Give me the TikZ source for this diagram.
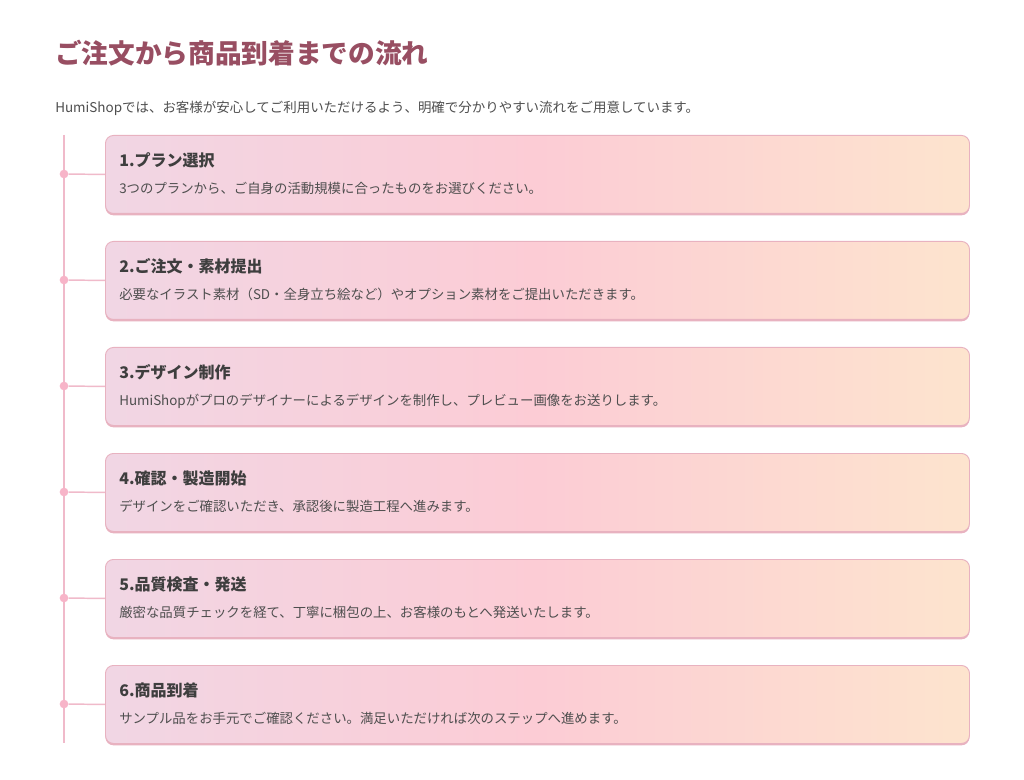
\documentclass[tikz,border=0pt]{standalone}
\usepackage{fontspec}
\setmainfont{Noto Sans CJK JP}
\usepackage{tikz}
\usetikzlibrary{positioning}

\definecolor{titlerose}{RGB}{152,78,98}
\definecolor{bodygray}{RGB}{78,78,78}
\definecolor{headgray}{RGB}{62,62,62}
\definecolor{linepink}{RGB}{240,186,202}
\definecolor{dotpink}{RGB}{247,180,200}
\definecolor{cardleft}{RGB}{241,214,228}
\definecolor{cardmid}{RGB}{252,204,213}
\definecolor{cardright}{RGB}{253,228,206}
\definecolor{cardedge}{RGB}{232,178,192}

\tikzset{
  stepcard/.style={rectangle, draw=cardedge, line width=0.7pt, rounded corners=6pt,
    left color=cardleft, right color=cardright, middle color=cardmid,
    minimum width=648pt, minimum height=58.5pt, inner sep=0pt, anchor=north west,
    preaction={fill=cardedge, transform canvas={yshift=-1.4pt}}},
  stephead/.style={anchor=base west, inner sep=0pt, text=headgray, font=\fontsize{12}{14}\selectfont\bfseries},
  stepdesc/.style={anchor=base west, inner sep=0pt, text=bodygray, font=\fontsize{10.05}{12}\selectfont},
  stepdot/.style={circle, fill=dotpink, inner sep=0pt, minimum size=6.5pt},
  timeline/.style={draw=linepink, line width=1.4pt},
  connector/.style={draw=linepink, line width=1.1pt}
}

\begin{document}
\begin{tikzpicture}[x=0.75pt,y=0.75pt,yscale=-1,xscale=1]
% canvas
\fill[white] (0,0) rectangle (1024,780);

% Title
\node[anchor=base west, inner sep=0pt, text=titlerose, font=\fontsize{20}{24}\selectfont\bfseries] (title) at (55,64) {ご注文から商品到着までの流れ};
% Lead text
\node[anchor=base west, inner sep=0pt, text=bodygray, font=\fontsize{10.1}{12}\selectfont] (lead) at (55,113) {HumiShopでは、お客様が安心してご利用いただけるよう、明確で分かりやすい流れをご用意しています。};

% Timeline
\coordinate (linetop) at (64,135);
\coordinate (linebot) at (64,743);
\draw[timeline] (linetop) -- (linebot);

% Steps
\foreach \i/\head/\desc in {
  1/{1.プラン選択}/{3つのプランから、ご自身の活動規模に合ったものをお選びください。},
  2/{2.ご注文・素材提出}/{必要なイラスト素材（SD・全身立ち絵など）やオプション素材をご提出いただきます。},
  3/{3.デザイン制作}/{HumiShopがプロのデザイナーによるデザインを制作し、プレビュー画像をお送りします。},
  4/{4.確認・製造開始}/{デザインをご確認いただき、承認後に製造工程へ進みます。},
  5/{5.品質検査・発送}/{厳密な品質チェックを経て、丁寧に梱包の上、お客様のもとへ発送いたします。},
  6/{6.商品到着}/{サンプル品をお手元でご確認ください。満足いただければ次のステップへ進めます。}}
{
  \pgfmathsetmacro{\ytop}{135+106*(\i-1)}
  \node[stepcard] (card\i) at (105,\ytop) {};
  \node[stephead] (head\i) at (119,\ytop+31.5) {\head};
  \node[stepdesc] (desc\i) at (119,\ytop+58.5) {\desc};
  \node[stepdot] (dot\i) at (64,\ytop+39) {};
  \draw[connector] (dot\i) -- (card\i.west);
}

\end{tikzpicture}
\end{document}
